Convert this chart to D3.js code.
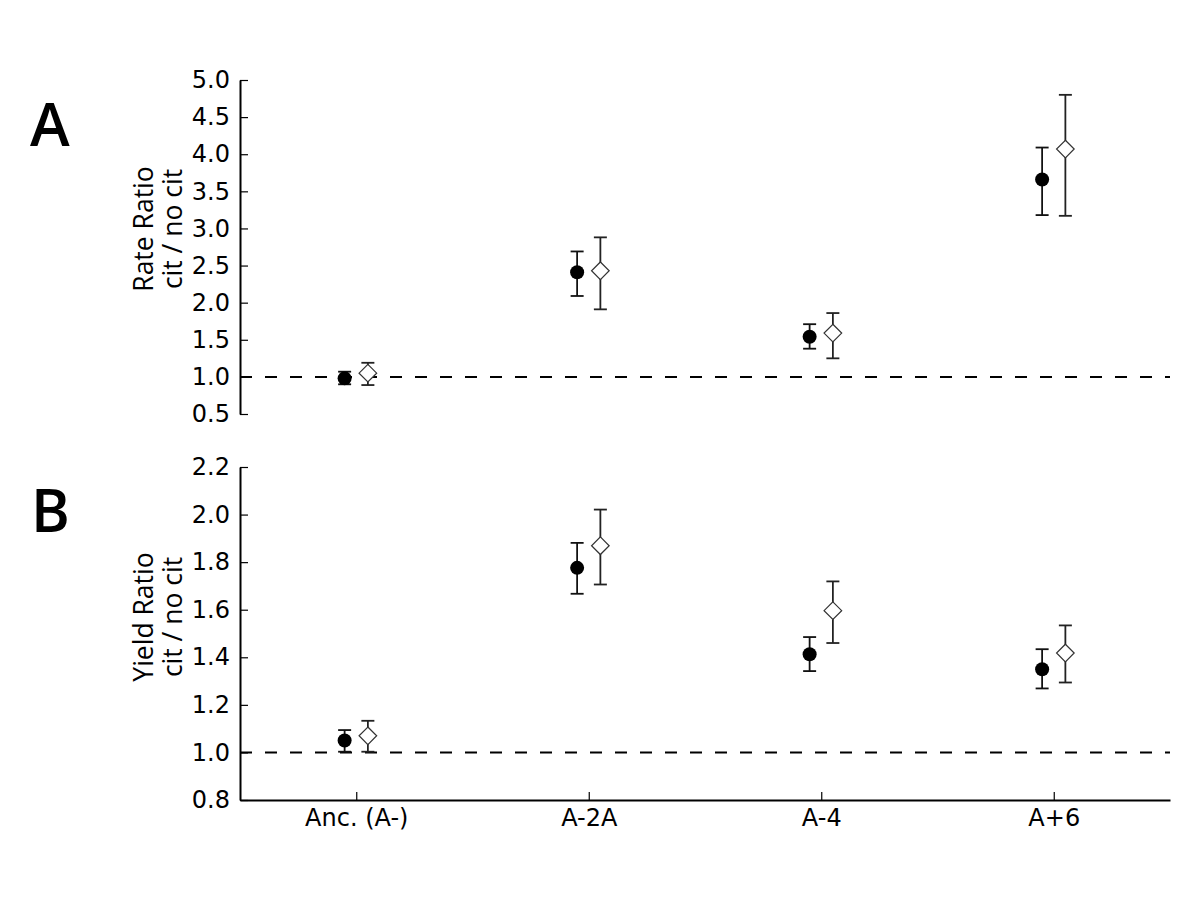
<!DOCTYPE html>
<html>
<head>
<meta charset="utf-8">
<script src="https://cdn.jsdelivr.net/npm/d3@7"></script>
<style>
  html, body { margin: 0; padding: 0; background: #fff; }
  svg { display: block; }
</style>
</head>
<body>
<svg id="chart" width="1200" height="900"></svg>
<script>
// ---------- data ----------
const categories = ["Anc. (A-)", "A-2A", "A-4", "A+6"];

const rateCircle     = [0.98, 2.41, 1.54, 3.66];
const rateCircleLow  = [0.90, 2.09, 1.38, 3.18];
const rateCircleHigh = [1.07, 2.69, 1.71, 4.09];
const rateDiamond     = [1.05, 2.43, 1.59, 4.07];
const rateDiamondLow  = [0.89, 1.91, 1.25, 3.17];
const rateDiamondHigh = [1.19, 2.88, 1.86, 4.80];

const yieldCircle     = [1.05, 1.776, 1.413, 1.35];
const yieldCircleLow  = [1.003, 1.667, 1.342, 1.269];
const yieldCircleHigh = [1.094, 1.881, 1.485, 1.434];
const yieldDiamond     = [1.07, 1.869, 1.596, 1.418];
const yieldDiamondLow  = [1.003, 1.706, 1.46, 1.294];
const yieldDiamondHigh = [1.133, 2.021, 1.719, 1.534];

const rateTicks  = [0.5, 1.0, 1.5, 2.0, 2.5, 3.0, 3.5, 4.0, 4.5, 5.0];
const yieldTicks = [0.8, 1.0, 1.2, 1.4, 1.6, 1.8, 2.0, 2.2];
const referenceValue = 1.0;

// ---------- layout ----------
const svg = d3.select("#chart");
const left = 240, right = 1170;
const tickFont = "'DejaVu Sans', sans-serif";
const labelFont = "'Open Sans', 'Noto Sans', sans-serif";

const x = d3.scalePoint().domain(categories).range([left, right]).padding(0.5);
const off = x.step() * 0.05;

const yA = d3.scaleLinear().domain([0.5, 5.0]).range([414, 80]);
const yB = d3.scaleLinear().domain([0.8, 2.2]).range([800, 467]);

function panel(y, ticks, circ, circLo, circHi, diam, diamLo, diamHi, withX) {
  const g = svg.append("g");

  // reference dashed line
  g.append("line")
    .attr("x1", left).attr("x2", right)
    .attr("y1", y(referenceValue)).attr("y2", y(referenceValue))
    .attr("stroke", "#000").attr("stroke-width", 2)
    .attr("stroke-dasharray", "12,13");

  // y axis
  const ya = g.append("g")
    .attr("transform", `translate(${left},0)`)
    .call(d3.axisLeft(y).tickValues(ticks).tickFormat(d3.format(".1f"))
      .tickSizeInner(-8).tickSizeOuter(0).tickPadding(10));
  ya.select(".domain").attr("stroke-width", 2);
  ya.selectAll(".tick line").attr("stroke-width", 1.2);
  ya.selectAll(".tick text").attr("font-family", tickFont).attr("font-size", 24).attr("fill", "#000");

  if (withX) {
    const xa = g.append("g")
      .attr("transform", `translate(0,${y.range()[0]})`)
      .call(d3.axisBottom(x).tickSizeInner(-8).tickSizeOuter(0).tickPadding(9));
    xa.select(".domain").attr("stroke-width", 2);
    xa.selectAll(".tick line").attr("stroke-width", 1.2);
    xa.selectAll(".tick text").attr("font-family", tickFont).attr("font-size", 24).attr("fill", "#000");
  }

  const cap = 6.5;
  function errbars(vals, lo, hi, dx, color) {
    const eg = g.append("g").attr("stroke", color).attr("stroke-width", 1.8).attr("fill", "none");
    categories.forEach((c, i) => {
      const cx = x(c) + dx;
      eg.append("line").attr("x1", cx).attr("x2", cx).attr("y1", y(lo[i])).attr("y2", y(hi[i]));
      eg.append("line").attr("x1", cx - cap).attr("x2", cx + cap).attr("y1", y(lo[i])).attr("y2", y(lo[i]));
      eg.append("line").attr("x1", cx - cap).attr("x2", cx + cap).attr("y1", y(hi[i])).attr("y2", y(hi[i]));
    });
  }
  errbars(circ, circLo, circHi, -off, "#111");
  errbars(diam, diamLo, diamHi, off, "#222");

  g.selectAll("circle.pt").data(categories).enter().append("circle")
    .attr("cx", c => x(c) - off)
    .attr("cy", (c, i) => y(circ[i]))
    .attr("r", 7).attr("fill", "#000");

  const h = 8.8;
  g.selectAll("path.dm").data(categories).enter().append("path")
    .attr("d", (c, i) => {
      const cx = x(c) + off, cy = y(diam[i]);
      return `M${cx},${cy - h}L${cx + h},${cy}L${cx},${cy + h}L${cx - h},${cy}Z`;
    })
    .attr("fill", "#fff").attr("stroke", "#333").attr("stroke-width", 1.2);
}

panel(yA, rateTicks, rateCircle, rateCircleLow, rateCircleHigh, rateDiamond, rateDiamondLow, rateDiamondHigh, false);
panel(yB, yieldTicks, yieldCircle, yieldCircleLow, yieldCircleHigh, yieldDiamond, yieldDiamondLow, yieldDiamondHigh, true);

// y labels
function ylabel(lines, cy) {
  const xs = [153, 182];
  lines.forEach((t, i) => {
    svg.append("text")
      .attr("transform", `translate(${xs[i]},${cy}) rotate(-90)`)
      .attr("text-anchor", "middle")
      .attr("font-family", labelFont).attr("font-size", 26.5).attr("fill", "#000")
      .text(t);
  });
}
ylabel(["Rate Ratio", "cit / no cit"], 229);
ylabel(["Yield Ratio", "cit / no cit"], 617);

// panel letters
svg.append("text").attr("x", 30).attr("y", 146)
  .attr("font-family", labelFont).attr("font-weight", 600).attr("font-size", 60).text("A");
svg.append("text").attr("x", 31).attr("y", 532)
  .attr("font-family", labelFont).attr("font-weight", 600).attr("font-size", 59).text("B");
</script>
</body>
</html>
